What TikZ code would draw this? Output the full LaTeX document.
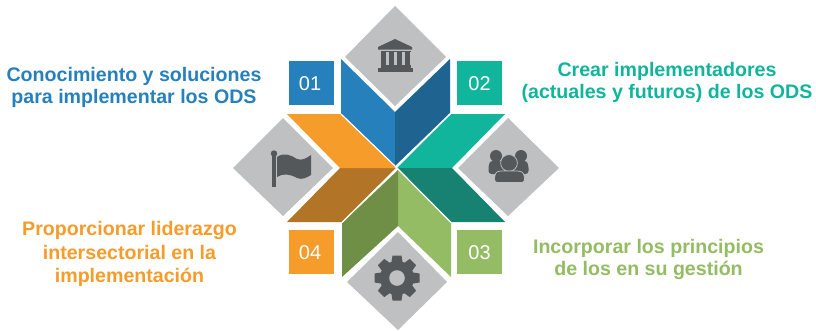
\documentclass[tikz,border=0pt]{standalone}
\usepackage{fontspec}
\setmainfont{Liberation Sans}
\definecolor{cblue}{HTML}{2680BC}
\definecolor{cblued}{HTML}{1F6490}
\definecolor{cteal}{HTML}{10B59B}
\definecolor{cteald}{HTML}{178272}
\definecolor{corange}{HTML}{F69C2A}
\definecolor{coranged}{HTML}{B27426}
\definecolor{cgreen}{HTML}{94BC64}
\definecolor{cgreend}{HTML}{6F8F47}
\definecolor{cgray}{HTML}{BFC0C2}
\definecolor{cicon}{HTML}{54585A}
\tikzset{
 numbox/.style={minimum width=45pt,minimum height=44pt,inner sep=0pt,text=white,font=\fontsize{20}{20}\selectfont},
 numtext/.style={inner sep=0pt,text=white,font=\fontsize{20}{20}\selectfont},
 lab/.style={align=center,inner sep=0pt,font=\fontsize{19.6}{22}\selectfont\bfseries},
 ico/.style={fill=cicon,draw=none},
 sep/.style={draw=white,line width=1.2pt}
}
\begin{document}
\begin{tikzpicture}[x=1pt,y=-1pt]
\useasboundingbox (0,0) rectangle (816,330);
\fill[white] (0,0) rectangle (816,330);
% diamonds
\fill[cgray] (395,6)--(446,57)--(395,106)--(345,57)--cycle;
\fill[cgray] (508,118)--(559,168)--(508,216)--(458,168)--cycle;
\fill[cgray] (398,232)--(447,282)--(398,330)--(347,282)--cycle;
\fill[cgray] (283,118)--(333,168)--(283,216)--(233,168)--cycle;
% chevrons
\fill[cblue] (341,59)--(395,112)--(395,166)--(341,114)--cycle;
\fill[cblued] (395,112)--(450,59)--(450,113)--(395,166)--cycle;
\fill[cteal] (451,114)--(505,114)--(452,168)--(397,168)--cycle;
\fill[cteald] (397,168)--(452,168)--(505,222)--(451,222)--cycle;
\fill[cgreen] (398,170)--(451,223)--(451,277)--(398,226)--cycle;
\fill[cgreend] (398,170)--(398,226)--(342,277)--(342,223)--cycle;
\fill[coranged] (340,168)--(396,168)--(342,222)--(287,222)--cycle;
\fill[corange] (287,114)--(341,114)--(395,166)--(395,168)--(340,168)--cycle;
\draw[sep] (341,114)--(396,167);
\draw[sep] (450.5,113.5)--(396,167);
\draw[sep] (342,222.5)--(397,168);
\draw[sep] (451,222.5)--(397,168);
% bank icon
\fill[ico] (395,39)--(412,47)--(412,49.5)--(378,49.5)--(378,47)--cycle;
\foreach \cx in {383.5,391.5,399.5,407.5}
  \fill[ico] (\cx-2.7,51) rectangle (\cx+2.7,66);
\fill[ico] (381,50.5) rectangle (411,52);
\fill[ico] (381,65) rectangle (411,67.5);
\fill[ico] (378,68) rectangle (413,72);
% flag icon
\fill[ico] (272.3,154) rectangle (275.7,186.5);
\fill[ico] (274,153.5) circle[radius=3.2];
\fill[ico] (277,157) .. controls (284,152) and (291,155) .. (297,159) .. controls (302,161) and (307,158) .. (311,155)
  -- (311,175) .. controls (306,178) and (302,180) .. (297,178) .. controls (290,174) and (283,173) .. (277,177) -- cycle;
% people icon
\fill[ico] (496,156) circle[radius=6];
\fill[ico] (521,156) circle[radius=6];
\fill[ico,rounded corners=3pt] (488.5,174) -- (488.5,165) .. controls (491,160) and (501,160) .. (504,165) -- (504,174) -- cycle;
\fill[ico,rounded corners=3pt] (513.5,174) -- (513.5,165) .. controls (516,160) and (526,160) .. (528.5,165) -- (528.5,174) -- cycle;
\filldraw[fill=cicon,draw=cgray,line width=0.7pt] (509,163) circle[radius=8.4];
\filldraw[fill=cicon,draw=cgray,line width=0.7pt,rounded corners=3pt] (494.5,182.5) -- (494.5,176) .. controls (497,170.5) and (503,171) .. (509,171) .. controls (515,171) and (522,170.5) .. (524.5,176) -- (524.5,182.5) -- cycle;
% gear icon
\fill[ico] (397,278) circle[radius=17];
\foreach \a in {0,45,...,315}
  \fill[ico,rotate around={\a:(397,278)}] (392.5,255.5) -- (401.5,255.5) -- (403,265) -- (391,265) -- cycle;
\fill[cgray] (397,278) circle[radius=7.8];
% number boxes
\node[numbox,fill=cblue] (n1) at (311.5,83) {};
\node[numbox,fill=cteal] (n2) at (479.5,83) {};
\node[numbox,fill=cgreen] (n3) at (479.5,252) {};
\node[numbox,fill=corange] (n4) at (311.5,252) {};
\node[numtext] (d1) at (310,84) {01};
\node[numtext] (d2) at (479.5,84) {02};
\node[numtext] (d3) at (479.5,253) {03};
\node[numtext] (d4) at (310,253) {04};
% labels
\node[lab,text=cblue] (t1) at (134,87.5) {Conocimiento y soluciones\\para implementar los ODS};
\node[lab,text=cteal] (t2) at (667,82.5) {Crear implementadores\\(actuales y futuros) de los ODS};
\node[lab,text=cgreen] (t3) at (648.5,259) {Incorporar los principios\\de los en su gestión};
\node[lab,text=corange,font=\fontsize{19.6}{23.5}\selectfont\bfseries] (t4) at (129.5,254) {Proporcionar liderazgo\\intersectorial en la\\implementación};
\end{tikzpicture}
\end{document}
